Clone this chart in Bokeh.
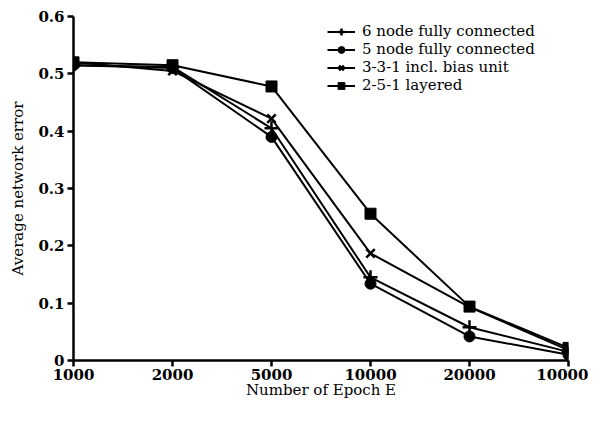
from bokeh.plotting import figure
from bokeh.models import Legend, LegendItem, FixedTicker, Range1d
from bokeh.embed import file_html
from bokeh.resources import INLINE

epoch_labels = ["1000", "2000", "5000", "10000", "20000", "10000"]
x_pos = [0, 1, 2, 3, 4, 5]
six_node = [0.515, 0.512, 0.405, 0.145, 0.058, 0.015]
five_node = [0.515, 0.510, 0.390, 0.134, 0.042, 0.010]
three_three_one = [0.520, 0.505, 0.422, 0.187, 0.093, 0.018]
two_five_one = [0.520, 0.515, 0.478, 0.256, 0.094, 0.022]
y_ticks = [0, 0.1, 0.2, 0.3, 0.4, 0.5, 0.6]
y_labels = ["0", "0.1", "0.2", "0.3", "0.4", "0.5", "0.6"]

FONT = "DejaVu Serif"

p = figure(width=588, height=410, output_backend="svg", toolbar_location=None,
           x_range=Range1d(0, 5), y_range=Range1d(0, 0.6),
           min_border_left=73, min_border_right=20, min_border_top=16, min_border_bottom=50)
p.outline_line_color = None
p.xgrid.visible = False
p.ygrid.visible = False
p.background_fill_color = "white"

series = [
    ("6 node fully connected", six_node, "cross"),
    ("5 node fully connected", five_node, "circle"),
    ("3-3-1 incl. bias unit", three_three_one, "x"),
    ("2-5-1 layered", two_five_one, "square"),
]
items = []
for name, ys, mk in series:
    l = p.line(x_pos, ys, line_color="black", line_width=2)
    if mk == "cross":
        m = p.scatter(x_pos, ys, marker=mk, size=14, line_color="black", line_width=2.5, fill_color="black")
    elif mk == "x":
        m = p.scatter(x_pos, ys, marker=mk, size=12, line_color="black", line_width=2.5, fill_color="black")
    else:
        m = p.scatter(x_pos, ys, marker=mk, size=11, line_color="black", fill_color="black")
    items.append(LegendItem(label=name, renderers=[l, m]))

legend = Legend(items=items, location=(254, 266))
legend.border_line_color = None
legend.background_fill_alpha = 0
legend.label_text_font = FONT
legend.label_text_font_size = "15px"
legend.label_text_line_height = 1.0
legend.label_text_color = "black"
legend.glyph_width = 28
legend.glyph_height = 17
legend.label_height = 17
legend.spacing = 0
legend.padding = 2
legend.label_standoff = 7
p.add_layout(legend)

for ax in (p.xaxis[0], p.yaxis[0]):
    ax.axis_line_width = 2.5
    ax.axis_line_color = "black"
    ax.major_tick_line_width = 2.5
    ax.major_tick_line_color = "black"
    ax.major_tick_in = 0
    ax.major_tick_out = 6
    ax.minor_tick_line_color = None
    ax.major_label_text_font = FONT
    ax.major_label_text_font_size = "15px"
    ax.major_label_text_font_style = "bold"
    ax.major_label_text_color = "black"
    ax.axis_label_text_font = FONT
    ax.axis_label_text_font_size = "15px"
    ax.axis_label_text_font_style = "normal"
    ax.axis_label_text_color = "black"

p.xaxis.ticker = FixedTicker(ticks=x_pos)
p.xaxis.major_label_overrides = {x: lab for x, lab in zip(x_pos, epoch_labels)}
p.xaxis.axis_label = "Number of Epoch E"
p.xaxis.major_label_standoff = 2
p.xaxis.axis_label_standoff = -2

p.yaxis.ticker = FixedTicker(ticks=y_ticks)
p.yaxis.major_label_overrides = {t: lab for t, lab in zip(y_ticks, y_labels)}
p.yaxis.axis_label = "Average network error"
p.yaxis.major_label_standoff = 3
p.yaxis.axis_label_standoff = 8

open("out.html", "w").write(file_html(p, INLINE))
